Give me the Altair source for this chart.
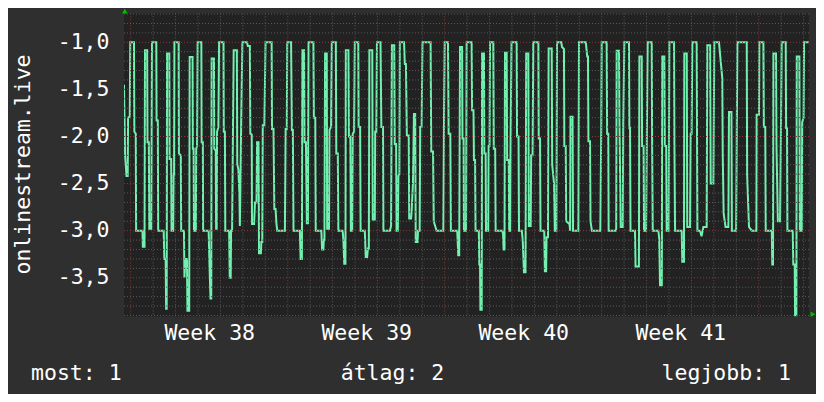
import altair as alt
import pandas as pd

# ---- series (hours since Monday of week 38, value) ----
hours = [
    -7.2, -6.0, -4.5, -3.2, -2.8, -1.0, -0.5, 3.5, 3.9, 5.4, 5.8, 12.6, 13.0, 14.8, 15.3, 17.6, 18.0, 19.4, 19.9, 22.0,
    22.8, 27.4, 27.7, 29.0, 29.4, 35.3, 36.0, 37.4, 37.9, 38.5, 38.9, 41.3, 41.6, 43.3, 43.7, 45.5, 45.9, 46.4, 46.8, 51.3,
    51.6, 53.6, 54.0, 57.0, 57.5, 58.5, 60.2, 60.7, 62.6, 63.1, 66.2, 66.5, 67.3, 67.7, 69.7, 70.1, 71.0, 71.6, 75.6, 75.9,
    77.2, 77.5, 83.4, 84.4, 85.4, 86.2, 86.6, 89.1, 89.4, 91.0, 91.4, 92.0, 92.4, 93.8, 94.6, 99.3, 99.6, 100.8, 101.2, 105.3,
    106.0, 107.0, 107.4, 108.5, 110.2, 113.6, 114.0, 115.2, 116.3, 116.8, 117.3, 118.2, 119.5, 124.5, 125.3, 127.5, 128.0, 129.5, 129.8, 132.0,
    133.0, 134.6, 135.2, 136.8, 137.3, 139.3, 139.8, 140.8, 141.3, 143.0, 144.3, 150.8, 151.2, 152.8, 153.7, 155.0, 156.0, 156.8, 165.0, 165.8,
    167.0, 167.5, 171.6, 172.5, 173.5, 174.2, 181.0, 181.8, 183.2, 183.7, 185.5, 186.0, 187.5, 188.5, 189.6, 190.3, 195.5, 196.0, 197.5, 198.0,
    204.0, 204.8, 206.2, 206.6, 207.3, 208.0, 209.8, 210.2, 212.2, 212.7, 214.4, 215.2, 219.5, 220.0, 221.6, 222.2, 226.8, 227.6, 228.5, 229.8,
    230.2, 233.0, 233.5, 235.0, 235.6, 237.0, 237.6, 239.0, 239.8, 243.5, 243.9, 245.5, 246.0, 250.5, 251.5, 253.0, 253.8, 254.8, 255.4, 258.5,
    259.0, 261.2, 261.6, 262.8, 263.5, 267.3, 268.2, 270.0, 270.4, 277.4, 278.6, 279.5, 282.0, 282.5, 284.0, 284.5, 285.8, 286.5, 287.5, 288.0,
    292.5, 293.3, 294.5, 295.5, 297.5, 298.0, 300.0, 300.6, 302.0, 303.1, 304.4, 305.0, 307.0, 307.4, 309.2, 309.8, 311.3, 312.2, 320.9, 321.6,
    323.5, 324.3, 325.8, 327.3, 334.5, 335.3, 336.0, 339.5, 340.2, 342.0, 342.6, 349.4, 350.5, 351.5, 352.4, 354.6, 355.0, 356.2, 356.6, 358.8,
    359.5, 364.8, 365.3, 366.8, 367.3, 368.5, 369.0, 372.5, 373.0, 373.8, 374.2, 375.6, 376.0, 378.0, 378.4, 379.8, 380.2, 382.5, 383.0, 384.0,
    384.5, 388.0, 388.5, 390.0, 390.5, 397.5, 398.4, 399.0, 400.0, 400.5, 402.3, 402.8, 404.5, 405.0, 406.0, 406.5, 407.5, 413.0, 413.4, 415.0,
    415.5, 418.5, 419.5, 420.8, 422.5, 423.2, 425.5, 426.0, 428.0, 428.5, 430.0, 430.8, 436.2, 436.6, 438.0, 438.5, 442.5, 443.2, 444.5, 445.0,
    446.5, 447.2, 450.5, 451.0, 453.0, 453.8, 455.5, 456.2, 460.8, 461.5, 463.6, 464.0, 465.5, 466.0, 469.5, 470.2, 470.6, 472.8, 473.3, 479.0,
    479.7, 487.0, 488.5, 489.3, 489.8, 491.5, 492.0, 493.5, 502.5, 503.5, 504.0, 509.3, 509.8, 511.0, 511.4, 519.0, 519.5, 520.0, 522.5, 523.0,
    524.3, 526.5, 527.0, 528.2, 533.2, 533.6, 534.3, 534.8, 539.6, 540.2, 543.8, 544.3, 546.8, 547.2, 548.8, 549.3, 551.5, 552.3, 553.2, 557.5,
    557.9, 558.6, 564.6, 565.5, 566.4, 568.3, 568.8, 571.0, 571.5, 573.0, 573.5, 575.5, 576.4, 581.4, 581.8, 582.5, 589.6, 590.2, 592.0, 592.4,
    595.0, 595.5, 598.5, 599.2, 600.2, 601.0, 605.6, 606.0, 606.4, 609.2, 610.8, 612.8, 616.3, 617.0, 620.0, 620.6, 623.5, 624.5, 629.5, 631.3,
    633.0, 633.5, 634.5, 636.5, 639.5, 640.2, 642.8, 643.3, 647.8, 648.5, 649.2, 659.2, 659.6, 661.6, 664.5, 669.5, 669.8, 672.3, 672.7, 677.0,
    677.5, 679.0, 679.5, 686.0, 686.5, 687.3, 687.7, 690.5, 691.0, 692.5, 694.8, 695.8, 696.6, 700.9, 701.3, 702.3, 702.7, 708.4, 709.0, 710.5,
    710.9, 712.3, 712.7, 715.5, 716.0, 718.0, 718.5, 720.0, 720.5, 725.8,
]
values = [
    -1.45, -2.2, -2.42, -2.42, -1.8, -1.79, -1.0, -1.0, -1.95, -1.97, -3.0, -3.0, -3.17, -3.17, -1.085, -1.085, -2.06, -2.06, -2.98, -2.98,
    -1.0, -1.0, -1.83, -1.83, -3.0, -3.0, -3.3, -3.3, -3.83, -3.83, -1.12, -1.12, -2.24, -2.24, -3.0, -3.0, -2.4, -2.4, -1.0, -1.0,
    -2.18, -2.2, -3.0, -3.0, -3.5, -3.3, -3.3, -3.85, -3.85, -1.156, -1.156, -2.13, -2.13, -3.0, -3.0, -2.13, -2.1, -1.0, -1.0, -2.06,
    -2.06, -3.0, -3.0, -3.4, -3.72, -3.72, -1.173, -1.173, -2.13, -2.15, -2.98, -2.98, -1.95, -1.9, -1.0, -1.0, -1.95, -1.95, -3.0, -3.0,
    -3.5, -3.5, -3.0, -3.0, -1.085, -1.085, -2.29, -2.35, -2.6, -2.95, -2.6, -1.85, -1.0, -1.0, -1.04, -1.04, -1.97, -1.98, -2.93, -2.93,
    -2.7, -2.7, -2.06, -2.06, -3.24, -3.24, -3.12, -3.12, -1.88, -1.88, -1.0, -1.0, -1.92, -1.92, -2.77, -2.77, -2.93, -3.0, -3.0, -1.92,
    -1.92, -1.0, -1.0, -1.93, -1.93, -3.0, -3.0, -3.3, -3.3, -1.085, -1.085, -2.06, -2.06, -2.92, -2.92, -1.0, -1.0, -1.8, -1.8, -3.0,
    -3.0, -3.2, -3.2, -3.1, -3.1, -1.12, -1.12, -2.98, -2.98, -1.93, -1.9, -1.0, -1.0, -2.18, -2.18, -3.0, -3.0, -3.1, -3.35, -3.35,
    -1.085, -1.085, -2.0, -2.0, -3.0, -3.0, -1.97, -1.95, -1.0, -1.0, -1.9, -1.9, -3.0, -3.0, -3.28, -3.28, -3.19, -3.19, -1.085, -1.085,
    -2.88, -2.88, -1.95, -1.95, -1.0, -1.0, -1.9, -1.9, -3.0, -3.0, -2.95, -1.03, -1.03, -2.08, -2.08, -3.0, -3.0, -2.42, -2.4, -1.0,
    -1.0, -1.23, -1.23, -1.99, -1.99, -2.87, -2.87, -2.8, -2.5, -1.76, -1.76, -3.12, -3.12, -3.0, -3.0, -1.9, -1.9, -1.0, -1.0, -2.16,
    -2.16, -2.9, -2.95, -3.0, -3.0, -1.72, -1.0, -1.0, -1.97, -1.97, -3.0, -3.0, -3.26, -3.26, -1.05, -1.05, -2.02, -2.02, -3.0, -3.0,
    -1.0, -1.0, -1.72, -1.72, -2.25, -2.25, -3.0, -3.0, -3.36, -3.36, -3.84, -3.84, -1.12, -1.12, -2.18, -2.18, -3.0, -3.0, -2.1, -2.1,
    -1.0, -1.0, -2.13, -2.13, -3.0, -3.0, -3.03, -3.2, -3.2, -1.11, -1.11, -2.25, -2.25, -3.0, -3.0, -2.0, -1.0, -1.0, -2.0, -2.0,
    -3.0, -3.0, -3.1, -3.44, -3.44, -1.12, -1.12, -2.95, -2.95, -2.2, -2.2, -1.0, -1.0, -2.02, -2.02, -3.0, -3.0, -3.43, -3.43, -3.07,
    -3.07, -1.065, -1.065, -2.3, -2.5, -3.0, -3.0, -1.0, -1.0, -1.05, -1.07, -2.1, -2.1, -2.9, -2.93, -3.0, -1.79, -1.79, -3.0, -3.0,
    -1.0, -1.0, -1.15, -1.15, -2.05, -2.05, -2.9, -3.0, -3.0, -1.9, -1.0, -1.0, -1.97, -1.97, -3.0, -3.0, -2.98, -1.09, -1.09, -1.85,
    -2.96, -2.96, -1.9, -1.0, -1.0, -1.91, -1.91, -3.0, -3.0, -3.38, -3.38, -1.15, -1.15, -2.1, -2.1, -3.0, -3.0, -2.0, -1.0, -1.0,
    -2.0, -3.0, -3.0, -3.08, -3.58, -3.58, -1.15, -1.15, -2.1, -2.1, -3.0, -3.0, -1.0, -1.0, -2.09, -3.0, -3.0, -3.33, -3.33, -1.12,
    -1.12, -2.96, -2.96, -1.97, -1.97, -1.0, -1.0, -2.0, -3.0, -3.0, -3.06, -2.96, -2.96, -1.03, -1.03, -2.5, -2.5, -1.0, -1.0, -1.2,
    -1.38, -2.2, -2.82, -2.96, -2.96, -1.74, -1.74, -3.0, -3.0, -2.0, -1.0, -1.0, -2.41, -2.96, -3.0, -3.0, -1.77, -1.77, -1.0, -1.0,
    -1.9, -1.9, -3.0, -3.0, -3.36, -3.36, -1.12, -1.12, -2.1, -2.9, -2.9, -1.9, -1.0, -1.0, -1.91, -1.91, -3.0, -3.0, -3.36, -3.36,
    -3.9, -3.9, -1.15, -1.15, -3.0, -3.0, -1.85, -1.8, -1.0, -1.0,
]

# ---- axes / grid ----
y_label_values = [-3.5, -3.0, -2.5, -2.0, -1.5, -1.0]
week_label_hours = [84, 252, 420, 588]
major_h = [-3.5, -3.0, -2.5, -2.0, -1.5, -1.0]
minor_h = [round(-3.9 + 0.1 * i, 1) for i in range(33) if round((-3.9 + 0.1 * i) * 2, 6) % 1 != 0]
major_v = [0, 168, 336, 504, 672]
minor_v = [24 * d for d in range(31) if (24 * d) % 168 != 0]
footer_left = "most: 1"
footer_mid = "átlag: 2"
footer_right = "legjobb: 1"
y_title = "onlinestream.live"

FONT = "DejaVu Sans Mono"
BG = "#2f2f2f"
PLOT_BG = "#222222"
LINE = "#72f0b0"
FS = 21.5

x_scale = alt.Scale(domain=[-7.17, 725.8], nice=False, zero=False)
y_scale = alt.Scale(domain=[-3.911, -0.692], nice=False, zero=False)

x_axis = alt.Axis(
    values=week_label_hours,
    labelExpr="'Week ' + (38 + floor(datum.value / 168))",
    grid=False, ticks=False, domain=False,
    labelPadding=6, labelFont=FONT, labelFontSize=FS, labelColor="#ffffff",
    title=None,
)
y_axis = alt.Axis(
    values=y_label_values,
    labelExpr="'-' + replace(format(abs(datum.value), '.1f'), '.', ',')",
    grid=False, ticks=False, domain=False,
    labelPadding=15, labelFont=FONT, labelFontSize=FS, labelColor="#ffffff",
    title=y_title, titleFont=FONT, titleFontSize=FS, titleFontWeight="normal",
    titleColor="#ffffff", titleAngle=270, titleX=-95, titleY=150.7,
    titleAlign="center", titleBaseline="alphabetic",
)


def X(field):
    return alt.X(field, scale=x_scale, axis=x_axis)


def Y(field):
    return alt.Y(field, scale=y_scale, axis=y_axis)


df = pd.DataFrame({"h": hours, "v": values})

minor_h_layer = alt.Chart(pd.DataFrame({"v": minor_h})).mark_rule(
    color="#5a5a5a", strokeDash=[1, 2], strokeWidth=1
).encode(y=Y("v:Q"))
major_h_layer = alt.Chart(pd.DataFrame({"v": major_h})).mark_rule(
    color="#8a3a3a", strokeDash=[1, 2], strokeWidth=1
).encode(y=Y("v:Q"))
minor_v_layer = alt.Chart(pd.DataFrame({"h": minor_v})).mark_rule(
    color="#5a5a5a", strokeDash=[1, 2], strokeWidth=1
).encode(x=X("h:Q"))
major_v_layer = alt.Chart(pd.DataFrame({"h": major_v})).mark_rule(
    color="#8a3a3a", strokeDash=[1, 2], strokeWidth=1
).encode(x=X("h:Q"))

line = alt.Chart(df).mark_line(color=LINE, strokeWidth=2, strokeJoin="miter", clip=True).encode(
    x=X("h:Q"), y=Y("v:Q")
)

arrow_up = alt.Chart(pd.DataFrame({"h": [-6.3], "v": [-0.668]})).mark_point(
    shape="triangle-up", filled=True, color="#00c000", size=30, opacity=1, clip=False
).encode(x=X("h:Q"), y=Y("v:Q"))
arrow_right = alt.Chart(pd.DataFrame({"h": [730.0], "v": [-3.886]})).mark_point(
    shape="triangle-right", filled=True, color="#00c000", size=30, opacity=1, clip=False
).encode(x=X("h:Q"), y=Y("v:Q"))


def footer(text, align, xpos):
    return alt.Chart(pd.DataFrame({"t": [text]})).mark_text(
        align=align, baseline="alphabetic", font=FONT, fontSize=FS, color="#ffffff"
    ).encode(text="t:N", x=alt.value(xpos), y=alt.value(366.7))


chart = alt.layer(
    line, minor_h_layer, minor_v_layer, major_h_layer, major_v_layer,
    arrow_up, arrow_right,
    footer(footer_left, "left", -93), footer(footer_mid, "center", 268.5), footer(footer_right, "right", 667),
).properties(
    width=685, height=303.2,
    autosize=alt.AutoSizeParams(type="none"),
    padding={"left": 116, "top": 5.3, "right": 7, "bottom": 77.5},
    background=BG,
).configure_view(fill=PLOT_BG, stroke=None)

chart.save("out.html", embed_options={"renderer": "svg", "actions": False})
